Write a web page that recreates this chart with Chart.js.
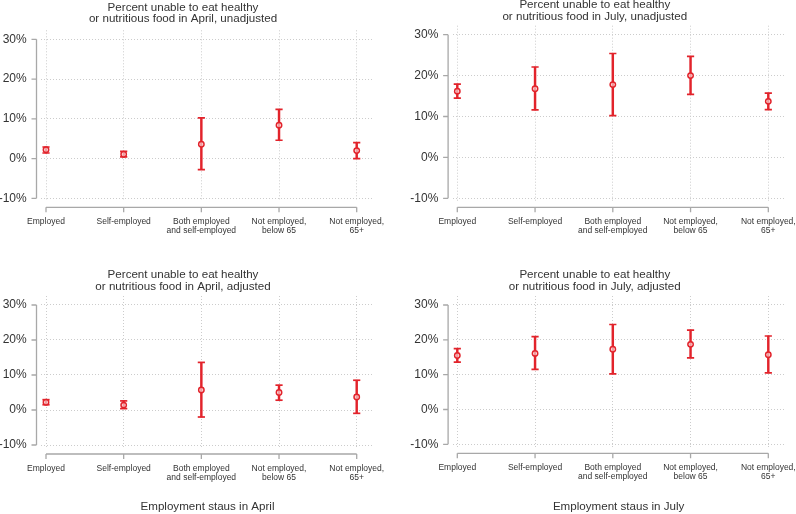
<!DOCTYPE html>
<html>
<head>
<meta charset="utf-8">
<script src="https://cdn.jsdelivr.net/npm/chart.js@4/dist/chart.umd.min.js"></script>
<style>
  html, body { margin: 0; padding: 0; background: #ffffff; overflow: hidden; width: 796px; height: 514px; position: relative; }
  .panel { position: absolute; }
  canvas { display: block; }
</style>
</head>
<body>
<div id="wrap"></div>
<script>
// ---------------- data ----------------
const categories = [
  ['Employed'],
  ['Self-employed'],
  ['Both employed', 'and self-employed'],
  ['Not employed,', 'below 65'],
  ['Not employed,', '65+']
];
const yTicks = [-10, 0, 10, 20, 30];

const aprilUnadjEst = [2.2, 1.1, 3.6, 8.4, 2.0];
const aprilUnadjLo  = [1.4, 0.4, -2.8, 4.6, 0.0];
const aprilUnadjHi  = [2.9, 1.8, 10.25, 12.35, 4.0];

const julyUnadjEst = [16.2, 16.8, 17.8, 20.0, 13.7];
const julyUnadjLo  = [14.5, 11.6, 10.2, 15.4, 11.7];
const julyUnadjHi  = [17.9, 22.1, 25.4, 24.7, 15.7];

const aprilAdjEst = [2.2, 1.4, 5.7, 5.0, 3.7];
const aprilAdjLo  = [1.5, 0.4, -2.0, 2.8, -0.95];
const aprilAdjHi  = [2.95, 2.6, 13.6, 7.1, 8.5];

const julyAdjEst = [15.5, 16.1, 17.3, 18.7, 15.7];
const julyAdjLo  = [13.6, 11.5, 10.2, 14.8, 10.5];
const julyAdjHi  = [17.5, 20.9, 24.4, 22.8, 21.1];

const titleAprilUnadj = ['Percent unable to eat healthy', 'or nutritious food in April, unadjusted'];
const titleJulyUnadj  = ['Percent unable to eat healthy', 'or nutritious food in July, unadjusted'];
const titleAprilAdj   = ['Percent unable to eat healthy', 'or nutritious food in April, adjusted'];
const titleJulyAdj    = ['Percent unable to eat healthy', 'or nutritious food in July, adjusted'];
const axisTitleApril = 'Employment staus in April';
const axisTitleJuly  = 'Employment staus in July';

// ---------------- style / layout ----------------
const RED = '#e2232b';
const AXIS = '#a8a8a8';
const GRID = '#cccccc';
const TEXT = '#333333';
const FONT = "'Liberation Sans', Arial, Helvetica, sans-serif";
const TITLE_SIZE = 11.6, TITLE_LH = 1.0;
const PAD_R = 24;

const panels = [
  { title: titleAprilUnadj, est: aprilUnadjEst, lo: aprilUnadjLo, hi: aprilUnadjHi, axisTitle: null,
    L: -8, T: 0, H: 250, area: { left: 41, right: 374, top: 30.3, bottom: 201.3 },
    ymin: -10.755, ymax: 32.264, xmin: -0.0644, xmax: 4.2227, titleTop: 1.6 },
  { title: titleJulyUnadj, est: julyUnadjEst, lo: julyUnadjLo, hi: julyUnadjHi, axisTitle: null,
    L: 405.4, T: -2, H: 252, area: { left: 453, right: 785, top: 25.7, bottom: 201.3 },
    ymin: -10.733, ymax: 32.2, xmin: -0.0605, xmax: 4.2096, titleTop: 1.3 },
  { title: titleAprilAdj, est: aprilAdjEst, lo: aprilAdjLo, hi: aprilAdjHi, axisTitle: axisTitleApril,
    L: -8, T: 255, H: 259, area: { left: 41, right: 374, top: 296, bottom: 448 },
    ymin: -10.857, ymax: 32.571, xmin: -0.0644, xmax: 4.2227, titleTop: 14.2 },
  { title: titleJulyAdj, est: julyAdjEst, lo: julyAdjLo, hi: julyAdjHi, axisTitle: axisTitleJuly,
    L: 405.4, T: 255, H: 259, area: { left: 453, right: 785, top: 296, bottom: 447.3 },
    ymin: -10.861, ymax: 32.584, xmin: -0.0605, xmax: 4.2096, titleTop: 14.2 }
];

const stataAxes = {
  id: 'stataAxes',
  afterDraw(chart) {
    const { ctx, chartArea: a, scales: { x, y } } = chart;
    ctx.save();
    ctx.strokeStyle = AXIS;
    ctx.lineWidth = 1.3;
    ctx.beginPath();
    const ax = a.left - 4.5;
    const yTop = y.getPixelForValue(yTicks[yTicks.length - 1]);
    const yBot = y.getPixelForValue(yTicks[0]);
    ctx.moveTo(ax, yTop); ctx.lineTo(ax, yBot);
    yTicks.forEach(v => { const p = y.getPixelForValue(v); ctx.moveTo(ax - 5, p); ctx.lineTo(ax, p); });
    const ay = a.bottom + 6;
    const x0 = x.getPixelForValue(0), x1 = x.getPixelForValue(categories.length - 1);
    ctx.moveTo(x0, ay); ctx.lineTo(x1, ay);
    categories.forEach((_, i) => { const p = x.getPixelForValue(i); ctx.moveTo(p, ay); ctx.lineTo(p, ay + 5); });
    ctx.stroke();
    ctx.restore();
  }
};

const wrap = document.getElementById('wrap');
panels.forEach((pn) => {
  const W = pn.area.right - pn.L + PAD_R;
  const div = document.createElement('div');
  div.className = 'panel';
  div.style.left = pn.L + 'px';
  div.style.top = pn.T + 'px';
  div.style.width = W + 'px';
  div.style.height = pn.H + 'px';
  const cv = document.createElement('canvas');
  cv.width = Math.round(W); cv.height = pn.H;
  cv.style.width = Math.round(W) + 'px'; cv.style.height = pn.H + 'px';
  div.appendChild(cv);
  wrap.appendChild(div);

  const Wy = pn.area.left - pn.L;
  const padR = Math.round(W) - (pn.area.right - pn.L);
  const lh = TITLE_SIZE * TITLE_LH;
  const titleBottom = pn.area.top - pn.T - pn.titleTop - 2 * lh;
  const Hx = pn.T + pn.H - pn.area.bottom;

  const idx = pn.est.map((_, i) => i);
  new Chart(cv, {
    type: 'bar',
    data: {
      datasets: [
        { type: 'bar', order: 3, data: idx.map(i => ({ x: i, y: [pn.lo[i], pn.hi[i]] })),
          backgroundColor: RED, borderWidth: 0, barThickness: 1.8, grouped: false },
        { type: 'line', order: 2, showLine: false,
          data: idx.flatMap(i => [{ x: i, y: pn.lo[i] }, { x: i, y: pn.hi[i] }]),
          pointStyle: 'line', pointRadius: 3.6, pointBorderWidth: 1.7, pointBorderColor: RED,
          borderColor: RED, pointHoverRadius: 3.6 },
        { type: 'line', order: 1, showLine: false,
          data: idx.map(i => ({ x: i, y: pn.est[i] })),
          pointStyle: 'circle', pointRadius: 2.7, pointBorderWidth: 1.5, pointBorderColor: RED,
          pointBackgroundColor: 'rgba(255,255,255,0.55)', borderColor: RED, pointHoverRadius: 2.7 }
      ]
    },
    options: {
      responsive: false,
      animation: false,
      events: [],
      layout: { padding: { left: 0, top: 0, bottom: 0, right: padR } },
      plugins: {
        legend: { display: false },
        tooltip: { enabled: false },
        title: {
          display: true, text: pn.title, color: TEXT,
          font: { family: FONT, size: TITLE_SIZE, weight: 'normal', lineHeight: TITLE_LH },
          padding: { top: pn.titleTop, bottom: titleBottom }
        }
      },
      scales: {
        x: {
          type: 'linear', offset: false, min: pn.xmin, max: pn.xmax,
          afterBuildTicks: s => { s.ticks = idx.map(v => ({ value: v })); },
          afterFit: s => { s.height = Hx; s.paddingLeft = 0; s.paddingRight = 0; },
          grid: { display: true, offset: false, color: GRID, lineWidth: 1, drawTicks: false },
          border: { display: false, dash: [1, 2] },
          ticks: {
            autoSkip: false, maxRotation: 0, minRotation: 0, padding: 15.7, color: TEXT,
            font: { family: FONT, size: 8.5, lineHeight: 1.06 },
            callback: v => categories[v]
          },
          title: pn.axisTitle ? {
            display: true, text: pn.axisTitle, color: TEXT,
            font: { family: FONT, size: 11.6, lineHeight: 1.0 },
            padding: { top: 0, bottom: 1.6 }
          } : { display: false }
        },
        y: {
          type: 'linear', min: pn.ymin, max: pn.ymax,
          afterBuildTicks: s => { s.ticks = yTicks.map(v => ({ value: v })); },
          afterFit: s => { s.width = Wy; s.paddingTop = 0; s.paddingBottom = 0; },
          grid: { display: true, color: GRID, lineWidth: 1, drawTicks: false },
          border: { display: false, dash: [1, 2] },
          ticks: {
            padding: 14.3, color: TEXT,
            font: { family: FONT, size: 12 },
            callback: v => v + '%'
          }
        }
      }
    },
    plugins: [stataAxes]
  });
});
</script>
</body>
</html>
